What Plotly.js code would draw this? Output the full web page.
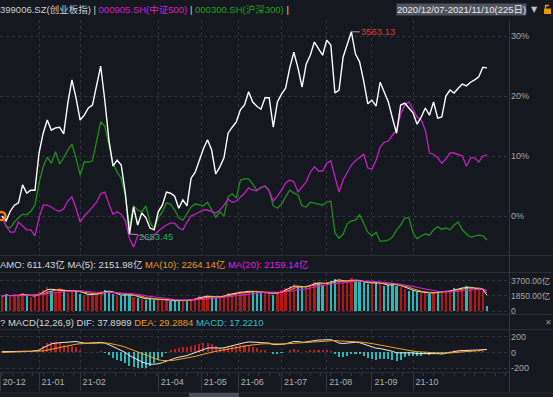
<!DOCTYPE html>
<html><head><meta charset="utf-8">
<script src="https://cdn.plot.ly/plotly-3.0.1.min.js"></script>
<style>html,body{margin:0;padding:0;background:#15181e;overflow:hidden}</style>
</head><body><div id="chart" style="width:553px;height:397px"></div>
<script>
// ---- data (sampled every 2 trading days, % change since 2020/12/07) ----
const cyb = [0,-0.8,0.8,1.8,2.2,5.2,3.8,4.3,4.3,10.5, 13.8,16.0,14.3,14.7,14.8,13.7,18.8,22.7,19.7,16.0,
 16.8,18.0,18.5,21.5,25.0,19.3,12.7,8.3,9.3,8.5, 3.8,-3.0,1.5,-1.5,0.5,-0.3,-2.0,-2.3,0.7,1.8,
 4.0,3.8,3.3,1.3,2.7,1.7,6.3,7.3,9.3,11.2, 12.7,11.0,7.0,8.2,9.7,13.8,14.8,15.7,17.7,18.5,
 20.7,19.0,18.3,17.8,19.7,19.7,14.8,19.0,20.3,21.3, 24.7,27.3,24.7,21.5,25.3,26.8,29.0,28.0,26.8,29.3,
 28.5,20.5,21.0,26.5,28.8,30.7,27.0,25.7,22.5,18.7, 19.3,18.3,22.3,20.5,19.0,16.3,13.8,18.5,18.8,18.0,
 17.2,15.3,16.5,18.0,16.8,19.0,16.3,16.5,20.0,21.0, 20.5,21.3,22.0,21.7,22.3,22.7,23.2,24.8,24.7];
const zz500 = [0,-1.7,-2.7,-2.7,-1.0,-1.7,-2.3,-2.3,-3.3,-0.3, 1.8,1.8,1.5,1.0,0.8,1.2,2.5,3.2,1.3,-1.0,
 0.0,0.7,1.5,2.3,3.7,4.0,2.0,0.3,0.7,0.3, -0.8,-3.7,-5.2,-3.3,-3.2,-3.8,-4.0,-3.2,-2.5,-2.0,
 -1.5,-1.2,-1.2,-2.0,-2.3,-1.0,0.0,0.3,0.7,1.0, 1.0,0.7,0.5,1.0,1.8,2.8,2.3,2.5,3.2,3.8,
 4.7,4.3,4.2,4.8,5.0,4.2,2.5,3.3,4.3,5.5, 6.0,5.7,4.0,4.8,5.7,7.3,8.2,7.5,7.5,8.8,
 9.2,6.5,4.0,6.0,7.3,8.5,9.2,9.8,10.3,8.0, 7.8,9.3,11.5,12.3,12.5,13.5,14.3,17.0,18.5,19.0,
 17.7,16.5,16.0,14.3,10.5,10.3,9.7,8.8,9.5,10.5, 10.5,10.2,10.0,8.3,9.7,9.7,9.0,10.0,10.2];
const hs300 = [0,-1.7,-2.0,-1.0,-0.3,0.3,0.2,0.8,1.8,5.5, 8.2,9.8,8.8,10.7,8.7,9.7,11.0,12.0,9.7,6.8,
 9.0,9.0,9.2,12.2,15.7,15.0,11.7,8.8,7.3,6.3, 3.3,-1.7,1.7,1.0,0.7,1.7,-1.0,-2.2,-0.3,0.7,
 2.2,2.0,1.0,-0.3,-0.7,0.5,1.5,2.0,1.8,1.7, 2.3,1.0,-0.2,0.7,0.0,3.2,3.7,3.0,6.0,6.2,
 6.2,5.3,4.3,4.7,5.0,4.2,1.7,1.3,2.0,3.2, 4.3,3.8,3.5,1.7,1.5,2.3,2.2,2.0,1.8,2.3,
 2.5,-2.8,-3.7,-3.0,-1.3,-0.8,-0.7,0.2,-1.2,-2.7, -3.3,-2.7,-4.2,-4.2,-4.0,-3.5,-2.3,-1.5,-0.3,-0.3,
 -2.8,-3.8,-3.3,-3.0,-3.2,-2.3,-1.8,-2.2,-2.0,-2.3, -1.5,-1.0,-2.3,-3.0,-3.5,-3.3,-3.2,-3.3,-4.0];
// turnover (亿)
const amo = [1800,2100,1700,2000,1900,2200,1800,1700,2000,2300, 2600,2900,2500,2300,2800,2400,2200,2600,2500,2100,
 2000,1900,2200,2100,2400,2600,2300,2100,1900,1800, 2200,2000,1700,1600,1500,1400,1600,1300,1400,1500,
 1300,1200,1250,1300,1400,1200,1500,1600,1800,1700, 1900,1700,1600,1800,2000,2200,2100,2300,2400,2300,
 2500,2400,2300,2200,2200,2300,2000,2300,2600,2800, 3000,3300,2800,2900,3100,3300,3600,3400,3200,3500,
 3700,3900,3800,3500,3600,4000,3700,3500,3600,3300, 3400,3600,3300,3000,3200,3400,3100,2900,2700,2500,
 2400,2300,2200,2300,2100,2200,2500,2400,2300,2600, 2800,2700,2900,3000,2800,2600,2700,2500,611];
// MACD(12,26,9)
const dif = [10,12,15,16,18,18,16,15,18, 30,60,90,110,120,125,125,130,140,140, 130,120,120,120,125,130,120,100,75,50,
 30,0,-40,-70,-100,-120,-140,-150,-150,-145, -130,-110,-90,-75,-60,-50,-40,-20,0,20, 40,55,60,55,55,60,75,90,100,115,
 125,135,135,130,125,125,120,100,100,105, 110,125,140,140,130,135,145,155,160,160, 165,165,145,120,115,120,130,130,125,110,
 90,70,55,50,40,30,15,-5,-5,0, 0,-5,-15,-15,-10,-15,-10,-15,-20,-10, 5,15,20,25,25,30,30,32,36,38];
const dea = [0,2,4,6,8,9,10,11,12, 14,20,30,42,55,67,78,88,98,106, 112,115,117,118,120,122,122,118,110,98,
 85,68,48,25,2,-20,-42,-62,-80,-94, -103,-106,-104,-98,-90,-82,-74,-63,-50,-36, -22,-8,5,15,24,32,40,50,60,70,
 80,90,98,104,108,112,114,112,110,109, 109,112,117,122,125,128,132,137,142,146, 150,153,152,148,143,140,138,137,135,130,
 123,114,104,94,84,73,62,50,40,31, 24,17,10,5,2,-1,-3,-5,-8,-8, -6,-2,3,8,12,17,21,25,29];
const monthTicks = [-0.9,18,38,76,97,115,136,158,180,200];
const monthLabels = ['20-12','21-01','21-02','21-04','21-05','21-06','21-07','21-08','21-09','21-10'];
const mainTicks = [0,10,20,30], mainTickText = ['0%','10%','20%','30%'];
const volTicks = [0,1850,3700], volTickText = ['0','1850.00亿','3700.00亿'];
const macdTicks = [-200,0,200], macdTickText = ['-200','0','200'];

// ---- derived ----
const days = cyb.map((_, i) => 2 * i);
const volColors = cyb.map((v, i) => (i === 0 || v >= cyb[i - 1]) ? '#b01818' : '#2fb5b5');
function ma(arr, n){ return arr.map((_, i) => { const s = arr.slice(Math.max(0, i - n + 1), i + 1); return s.reduce((a, b) => a + b, 0) / s.length; }); }
const hist = dif.map((d, i) => 2 * (d - dea[i]));
const histColors = hist.map(h => h >= 0 ? '#b52020' : '#2fb5b5');
let peakI = 0, lowI = 0;
cyb.forEach((v, i) => { if (v > cyb[peakI]) peakI = i; if (v < cyb[lowI]) lowI = i; });

const traces = [
  {x: days, y: hs300, type: 'scatter', mode: 'lines', line: {color: '#1d8f1d', width: 1.3}, yaxis: 'y', hoverinfo: 'skip'},
  {x: days, y: zz500, type: 'scatter', mode: 'lines', line: {color: '#c41ec4', width: 1.3}, yaxis: 'y', hoverinfo: 'skip'},
  {x: days, y: cyb, type: 'scatter', mode: 'lines', line: {color: '#ffffff', width: 1.4}, yaxis: 'y', hoverinfo: 'skip'},
  {x: [days[0] - 0.3], y: [cyb[0]], type: 'scatter', mode: 'markers', marker: {symbol: 'circle-open', size: 8, color: '#f07a1a', line: {width: 2.5, color: '#f07a1a'}}, yaxis: 'y', hoverinfo: 'skip'},
  {x: days, y: amo, type: 'bar', marker: {color: volColors}, width: 1.1, yaxis: 'y2', hoverinfo: 'skip'},
  {x: days, y: ma(amo, 3), type: 'scatter', mode: 'lines', line: {color: '#e8e8e8', width: 1}, yaxis: 'y2', hoverinfo: 'skip'},
  {x: days, y: ma(amo, 5), type: 'scatter', mode: 'lines', line: {color: '#e9a030', width: 1}, yaxis: 'y2', hoverinfo: 'skip'},
  {x: days, y: ma(amo, 10), type: 'scatter', mode: 'lines', line: {color: '#e020e0', width: 1}, yaxis: 'y2', hoverinfo: 'skip'},
  {x: days, y: hist, type: 'bar', marker: {color: histColors}, width: 1.0, yaxis: 'y3', hoverinfo: 'skip'},
  {x: days, y: dif, type: 'scatter', mode: 'lines', line: {color: '#e8e8e8', width: 1}, yaxis: 'y3', hoverinfo: 'skip'},
  {x: days, y: dea, type: 'scatter', mode: 'lines', line: {color: '#f0a020', width: 1}, yaxis: 'y3', hoverinfo: 'skip'}
];

const gridC = '#30343b';
const fam = 'Liberation Sans, "Noto Sans CJK SC", sans-serif';
const axFont = {family: fam, size: 9, color: '#a8a8a8'};
const hdrSize = 9.5;
const sep = '#2a2d33';
function pyToPaper(py){ return (372 - py) / 352; }
function hline(py){ return {type: 'line', xref: 'paper', yref: 'paper', x0: 0, x1: 1.09, y0: pyToPaper(py), y1: pyToPaper(py), line: {color: sep, width: 1}}; }

const layout = {
  width: 553, height: 397,
  paper_bgcolor: '#15181e', plot_bgcolor: '#15181e',
  margin: {l: 0, r: 43, t: 20, b: 25},
  showlegend: false, bargap: 0,
  font: axFont,
  xaxis: {range: [-1, 247.2], anchor: 'y3', tickmode: 'array', tickvals: monthTicks, ticktext: monthLabels,
    ticks: 'outside', ticklen: 18, tickcolor: '#33363d', tickwidth: 1, ticklabelstandoff: -17, ticklabelshift: 14,
    showgrid: true, gridcolor: gridC, griddash: 'dot', zeroline: false, showline: true, linecolor: sep,
    tickfont: {family: fam, size: 9, color: '#b0b0b0'},
    minor: {ticks: 'outside', ticklen: 3, tickcolor: '#33363d', tickmode: 'linear', tick0: 0, dtick: 5, showgrid: false}},
  yaxis: {domain: [pyToPaper(255.5), 1], range: [-6.58, 32.67], side: 'right', tickmode: 'array', tickvals: mainTicks, ticktext: mainTickText,
    showgrid: true, gridcolor: gridC, griddash: 'dot', zeroline: false, ticks: '', showline: false},
  yaxis2: {domain: [pyToPaper(313.5), pyToPaper(272.5)], range: [-300, 4700], side: 'right', tickmode: 'array', tickvals: volTicks, ticktext: volTickText,
    showgrid: true, gridcolor: gridC, griddash: 'dot', zeroline: false, ticks: '', tickfont: {family: fam, size: 8.5, color: '#a8a8a8'}},
  yaxis3: {domain: [0, pyToPaper(329.5)], range: [-250, 294], side: 'right', tickmode: 'array', tickvals: macdTicks, ticktext: macdTickText,
    showgrid: true, gridcolor: gridC, griddash: 'dot', zeroline: false, ticks: ''},
  shapes: [
    hline(255.5), hline(272.5), hline(314.5), hline(329.5), hline(392.5),
    {type: 'line', xref: 'paper', yref: 'paper', x0: 0.999, x1: 0.999, y0: pyToPaper(392), y1: pyToPaper(20), line: {color: '#33363d', width: 1}},
    {type: 'rect', xref: 'paper', yref: 'paper', x0: 0, x1: 1.09, y0: pyToPaper(397), y1: pyToPaper(392.5), fillcolor: '#1c1e23', line: {width: 0}},
    {type: 'rect', xref: 'paper', yref: 'paper', x0: 189/510, x1: 239/510, y0: pyToPaper(397), y1: pyToPaper(393), fillcolor: '#4d4d58', line: {width: 0}},
    {type: 'rect', xref: 'paper', yref: 'paper', x0: 544/510, x1: 551/510, y0: pyToPaper(14), y1: pyToPaper(8.5), fillcolor: '#e89a10', line: {width: 0}},
    {type: 'path', xref: 'paper', yref: 'paper', path: `M ${545.5/510} ${pyToPaper(8.5)} L ${545.5/510} ${pyToPaper(5.5)} L ${549/510} ${pyToPaper(5.5)}`, line: {color: '#e89a10', width: 1.3}}
  ],
  annotations: [
    {xref: 'paper', yref: 'paper', x: -0.003, y: pyToPaper(9.5), xanchor: 'left', yanchor: 'middle', showarrow: false,
     font: {family: fam, size: hdrSize, color: '#d0d0d0'},
     text: '399006.SZ(创业板指) | <span style="color:#d21ed2">000905.SH(中证500)</span> | <span style="color:#22a022">000300.SH(沪深300)</span> |'},
    {xref: 'paper', yref: 'paper', x: 396/510, y: pyToPaper(9.5), xanchor: 'left', yanchor: 'middle', showarrow: false, bgcolor: '#50535c', borderpad: 0,
     font: {family: fam, size: hdrSize, color: '#e8e8e8'}, text: '2020/12/07-2021/11/10(225日)'},
    {xref: 'paper', yref: 'paper', x: 529/510, y: pyToPaper(9.5), xanchor: 'left', yanchor: 'middle', showarrow: false,
     font: {family: 'DejaVu Sans, sans-serif', size: 8, color: '#c0c0c0'}, text: '▼'},
    {xref: 'paper', yref: 'paper', x: -0.003, y: pyToPaper(264), xanchor: 'left', yanchor: 'middle', showarrow: false,
     font: {family: fam, size: hdrSize, color: '#d8d8d8'},
     text: 'AMO: 611.43亿 MA(5): 2151.98亿 <span style="color:#e89a28">MA(10): 2264.14亿</span> <span style="color:#e020e0">MA(20): 2159.14亿</span>'},
    {xref: 'paper', yref: 'paper', x: -0.004, y: pyToPaper(322), xanchor: 'left', yanchor: 'middle', showarrow: false,
     font: {family: fam, size: hdrSize, color: '#d8d8d8'},
     text: '? MACD(12,26,9) DIF: 37.8989 <span style="color:#e89a28">DEA: 29.2884</span> <span style="color:#30c0c8">MACD: 17.2210</span>'},
    {xref: 'paper', yref: 'paper', x: 548/510, y: pyToPaper(322), xanchor: 'center', yanchor: 'middle', showarrow: false,
     font: {family: 'DejaVu Sans, sans-serif', size: 8, color: '#909090'}, text: '✕'},
    {x: days[peakI], y: cyb[peakI], xref: 'x', yref: 'y', text: '3563.13', showarrow: true, arrowhead: 0, arrowcolor: '#a0a0a0', arrowwidth: 1,
     ax: 27, ay: 0, font: {family: fam, size: 9.5, color: '#e03a3a'}},
    {x: days[lowI], y: cyb[lowI], xref: 'x', yref: 'y', text: '2653.45', showarrow: true, arrowhead: 0, arrowcolor: '#a0a0a0', arrowwidth: 1,
     ax: 27, ay: 2, font: {family: fam, size: 9.5, color: '#2fae66'}}
  ]
};
Plotly.newPlot('chart', traces, layout, {staticPlot: true, displayModeBar: false});
</script></body></html>
